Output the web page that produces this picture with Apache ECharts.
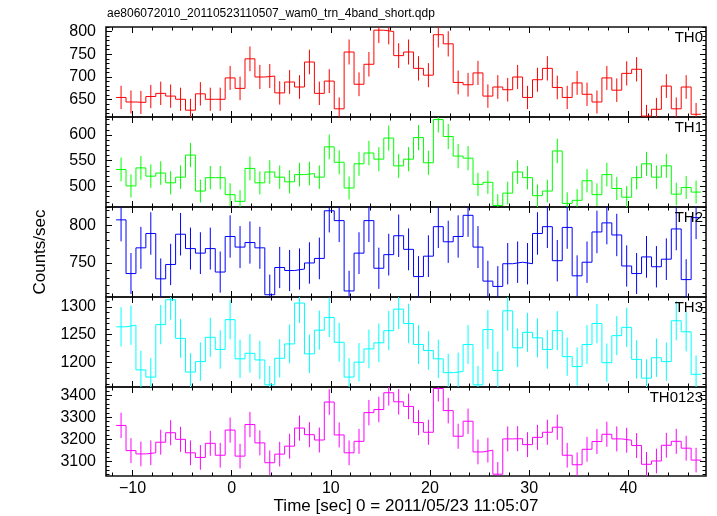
<!DOCTYPE html>
<html><head><meta charset="utf-8">
<script src="https://cdn.jsdelivr.net/npm/echarts@6/dist/echarts.min.js"></script>
<style>html,body{margin:0;padding:0;background:#fff}#c{width:717px;height:516px}</style>
</head><body><div id="c"></div>
<script>
// ---- data (count rates, counts/sec, 1 s bins) ----
const titleText = 'ae806072010_20110523110507_wam0_trn_4band_short.qdp';
const xTitle = 'Time [sec] 0 = 2011/05/23 11:05:07';
const yTitle = 'Counts/sec';
const binStart = -11.16;   // centre of first bin (sec)
const binWidth = 1.0;      // sec
const panelNames = ['TH0', 'TH1', 'TH2', 'TH3', 'TH0123'];

const th0 = [655,645,644,657,664,658,651,627,663,651,651,698,675,740,700,702,665,689,678,733,664,691,630,755,684,728,803,800,747,755,719,704,793,773,688,683,709,658,678,672,700,655,694,719,677,655,687,662,645,698,671,708,717,614,629,680,630,678,618];
const th1 = [533,501,536,520,526,507,518,561,491,517,517,484,471,535,507,528,518,509,523,525,518,577,547,497,544,565,553,594,540,553,595,546,630,597,559,555,504,508,463,487,528,517,482,491,569,467,473,511,484,523,496,479,517,544,518,540,485,498,489];
const th2 = [807,736,770,789,729,748,788,769,763,769,738,785,771,777,770,708,744,740,742,750,756,819,806,713,763,806,743,761,786,768,732,759,798,778,785,813,771,726,719,749,751,749,789,798,753,797,733,751,791,803,787,746,736,758,745,755,795,728,810];
const th3 = [1264,1267,1186,1173,1268,1313,1243,1182,1201,1245,1223,1277,1206,1216,1204,1159,1207,1233,1307,1215,1258,1281,1236,1173,1200,1224,1235,1257,1296,1270,1232,1221,1206,1181,1183,1232,1159,1259,1185,1293,1226,1254,1244,1223,1257,1210,1192,1232,1270,1199,1248,1263,1205,1171,1208,1201,1275,1255,1178];
const th0123 = [3263,3149,3134,3139,3187,3230,3200,3139,3118,3182,3128,3242,3124,3267,3184,3094,3133,3169,3251,3221,3197,3369,3220,3139,3191,3321,3335,3411,3370,3349,3276,3232,3430,3330,3214,3282,3143,3151,3042,3202,3203,3176,3209,3232,3255,3128,3085,3155,3190,3223,3202,3196,3172,3087,3102,3173,3191,3160,3106];

// ---- axis tick labels ----
const xRange = [-12.68, 47.84];
const xMajor = [-10, 0, 10, 20, 30, 40];
const xMinor = [-12,-8,-6,-4,-2,2,4,6,8,12,14,16,18,22,24,26,28,32,34,36,38,42,44,46];
const yRanges = [[612, 810], [460, 635], [705, 824], [1155, 1318], [3034, 3437]];
const yMajor = [[650,700,750,800], [500,550,600], [750,800], [1200,1250,1300], [3100,3200,3300,3400]];
const yMinorStep = [10, 10, 10, 10, 20];

const seriesData = [th0, th1, th2, th3, th0123];
const colors = ['#ff0000', '#00ff00', '#0000ff', '#00ffff', '#ff00ff'];

// ---- layout ----
const GL = 106, GW = 600, GT = 27, GH = 90;
const FONT = '"Liberation Sans", Arial, Helvetica, sans-serif';

function minorList(range, step, majors) {
  const out = [];
  const s = Math.ceil(range[0] / step) * step;
  for (let v = s; v <= range[1] + 1e-9; v += step) if (majors.indexOf(v) < 0) out.push(v);
  return out;
}
const fmtX = v => (v < 0 ? '\u2212' + Math.abs(v) : String(v));
const fmtY = v => String(v);

const grids = [], xAxes = [], yAxes = [], series = [], titles = [];
titles.push({ text: titleText, left: GL - 4, top: 3, textStyle: { fontSize: 12, fontWeight: 'normal', color: '#000', fontFamily: FONT } });

for (let k = 0; k < 5; k++) {
  grids.push({ left: GL, top: GT + GH * k, width: GW, height: GH, show: true, borderColor: '#111', borderWidth: 1.6, backgroundColor: 'transparent' });
  const last = k === 4;
  const mk = (pos, vals, len, labels) => ({
    type: 'value', gridIndex: k, position: pos, min: xRange[0], max: xRange[1],
    axisLine: { show: false, onZero: false }, splitLine: { show: false },
    axisTick: { show: true, inside: true, length: len, customValues: vals, lineStyle: { color: '#000', width: 1 } },
    axisLabel: labels ? { show: true, customValues: vals, formatter: fmtX, fontSize: 16, color: '#000', margin: 5, fontFamily: FONT } : { show: false }
  });
  const xa = mk('bottom', xMajor, 6, last);
  if (last) {
    xa.name = xTitle; xa.nameLocation = 'middle'; xa.nameGap = 22;
    xa.nameTextStyle = { fontSize: 17, color: '#000', fontFamily: FONT };
  }
  xAxes.push(xa, mk('bottom', xMinor, 3.5, false), mk('top', xMajor, 6, false), mk('top', xMinor, 3.5, false));

  const yr = yRanges[k], ymaj = yMajor[k], ymin = minorList(yr, yMinorStep[k], ymaj);
  const mky = (pos, vals, len, labels) => ({
    type: 'value', gridIndex: k, position: pos, min: yr[0], max: yr[1],
    axisLine: { show: false, onZero: false }, splitLine: { show: false },
    axisTick: { show: true, inside: true, length: len, customValues: vals, lineStyle: { color: '#000', width: 1 } },
    axisLabel: labels ? { show: true, customValues: vals, formatter: fmtY, fontSize: 16, color: '#000', margin: 10, fontFamily: FONT } : { show: false }
  });
  const ya = mky('left', ymaj, 6, true);
  if (k === 2) {
    ya.name = yTitle; ya.nameLocation = 'middle'; ya.nameGap = 57;
    ya.nameTextStyle = { fontSize: 17, color: '#000', fontFamily: FONT };
  }
  yAxes.push(ya, mky('left', ymin, 3.5, false), mky('right', ymaj, 6, false), mky('right', ymin, 3.5, false));

  const vals = seriesData[k];
  const stepPts = [], errPts = [];
  vals.forEach((v, i) => {
    const c = binStart + i * binWidth;
    stepPts.push([c - binWidth / 2, v], [c + binWidth / 2, v]);
    const e = Math.sqrt(v * binWidth) / binWidth; // Poisson error of the rate
    errPts.push([c, v - e, v + e]);
  });
  const col = colors[k];
  series.push({
    type: 'line', xAxisIndex: 4 * k, yAxisIndex: 4 * k, data: stepPts, showSymbol: false, symbol: 'none',
    lineStyle: { color: col, width: 1 }, clip: true, animation: false, silent: true
  });
  series.push({
    type: 'custom', xAxisIndex: 4 * k, yAxisIndex: 4 * k, data: errPts, clip: true, animation: false, silent: true,
    renderItem: function (params, api) {
      const p1 = api.coord([api.value(0), api.value(1)]);
      const p2 = api.coord([api.value(0), api.value(2)]);
      const cs = params.coordSys;
      const pts = echarts.graphic.clipPointsByRect([p1, p2], { x: cs.x, y: cs.y, width: cs.width, height: cs.height });
      return { type: 'line', shape: { x1: pts[0][0], y1: pts[0][1], x2: pts[1][0], y2: pts[1][1] }, style: { stroke: col, lineWidth: 1 } };
    }
  });
  titles.push({ text: panelNames[k], right: 9, top: GT + GH * k - 1.5, textStyle: { fontSize: 15, fontWeight: 'normal', color: '#000', fontFamily: FONT } });
}

const chart = echarts.init(document.getElementById('c'), null, { renderer: 'canvas' });
chart.setOption({ animation: false, backgroundColor: '#fff', title: titles, grid: grids, xAxis: xAxes, yAxis: yAxes, series: series });
</script>
</body></html>
